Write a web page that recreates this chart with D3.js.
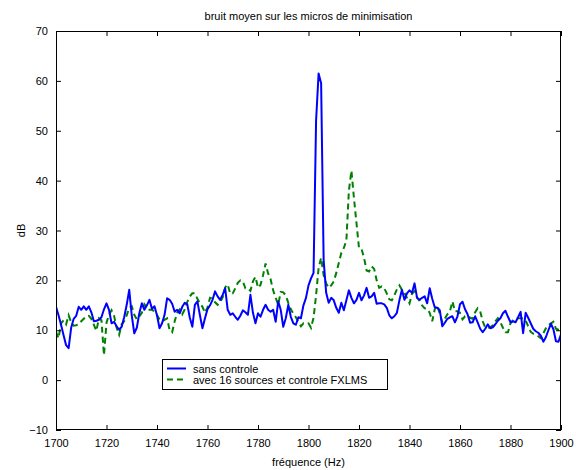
<!DOCTYPE html>
<html>
<head>
<meta charset="utf-8">
<script src="https://cdn.jsdelivr.net/npm/d3@7"></script>
<style>
  html, body { margin: 0; padding: 0; background: #fff; }
  svg { display: block; }
  text { font-family: "Liberation Sans", Arial, Helvetica, sans-serif; fill: #000; }
</style>
</head>
<body>
<svg id="chart" width="576" height="470"></svg>
<script>
// ---------- data ----------
const freqStart = 1700;   // Hz, 1 Hz steps
const sansControle = [
  14.7, 13.0, 11.1, 9.0, 7.0, 6.4, 10.5, 12.3, 12.9, 14.7,
  14.1, 14.8, 14.1, 14.8, 13.6, 11.8, 11.9, 12.1, 12.6, 14.2,
  15.4, 14.1, 11.4, 11.7, 10.8, 10.1, 10.7, 12.6, 15.1, 18.1,
  13.0, 9.4, 10.5, 13.4, 15.4, 14.1, 15.0, 16.1, 14.3, 14.8,
  13.0, 10.4, 11.4, 13.1, 16.4, 16.1, 15.3, 13.7, 14.1, 13.4,
  14.7, 15.5, 15.2, 12.5, 10.7, 15.1, 15.8, 13.0, 10.4, 12.4,
  14.2, 15.0, 16.1, 17.8, 16.8, 16.1, 17.1, 18.4, 14.1, 13.1,
  13.4, 12.7, 12.1, 12.9, 14.0, 13.6, 13.1, 17.1, 13.5, 11.4,
  13.4, 12.7, 14.1, 15.1, 14.1, 13.7, 14.1, 11.7, 15.8, 14.1,
  10.7, 12.4, 15.1, 12.7, 11.4, 11.1, 12.6, 12.4, 15.0, 16.5,
  19.0, 20.4, 21.5, 52.0, 61.5, 59.5, 24.0, 17.5, 15.5, 16.5,
  16.0, 14.5, 13.5, 15.5, 14.0, 16.0, 18.0, 16.5, 15.4, 16.1,
  17.5, 16.0, 17.0, 18.5, 16.5, 16.8, 17.5, 15.3, 15.4, 15.4,
  15.2, 14.5, 13.0, 12.4, 12.8, 13.5, 16.0, 18.1, 16.1, 17.4,
  18.0, 17.5, 19.4, 16.5, 16.1, 16.5, 16.8, 15.4, 18.4, 16.3,
  14.6, 14.5, 14.0, 10.8, 11.5, 12.3, 12.6, 12.8, 11.6, 12.8,
  15.2, 15.7, 14.2, 13.2, 11.5, 11.6, 12.8, 11.6, 10.3, 9.6,
  10.3, 11.2, 10.4, 10.6, 11.2, 11.9, 12.4, 13.4, 13.9, 12.7,
  11.6, 11.8, 11.6, 12.6, 13.7, 9.4, 13.5, 12.5, 11.4, 10.3,
  9.8, 9.5, 8.9, 7.7, 8.6, 10.0, 11.3, 10.2, 7.8, 7.7,
  9.2
];
const avecFXLMS = [
  9.7, 8.4, 11.4, 12.0, 11.2, 13.0, 11.6, 10.9, 11.0, 11.2,
  11.8, 12.3, 12.8, 12.9, 12.3, 11.1, 9.9, 12.4, 12.0, 5.0,
  11.5, 13.1, 14.0, 12.9, 10.5, 9.1, 11.2, 11.8, 13.0, 14.5,
  14.8, 13.1, 12.2, 12.8, 13.5, 15.2, 14.5, 14.1, 14.1, 13.8,
  13.0, 12.2, 11.8, 12.1, 12.4, 10.0, 9.6, 11.8, 13.5, 14.2,
  13.2, 14.2, 15.7, 16.8, 17.4, 17.4, 16.3, 15.4, 14.7, 13.5,
  14.6, 16.5, 16.3, 15.6, 15.1, 15.6, 16.6, 18.6, 19.2, 17.3,
  17.4, 18.4, 19.5, 20.0, 19.8, 18.4, 18.4, 17.9, 19.8, 20.7,
  18.5, 19.1, 21.0, 23.4, 21.4, 20.2, 18.0, 16.5, 15.1, 17.7,
  17.6, 17.0, 15.5, 14.2, 13.3, 12.6, 11.6, 10.8, 11.4, 11.3,
  11.4, 10.5, 12.5, 17.0, 22.5, 24.5, 21.0, 19.4, 18.5, 19.0,
  19.8, 21.5, 23.5, 25.5, 26.5, 28.0, 38.0, 42.0, 36.5, 31.5,
  26.5, 26.3, 24.5, 22.0, 21.8, 22.8, 22.3, 20.0, 18.5, 18.8,
  18.4, 17.4, 16.2, 16.0, 17.0, 18.2, 19.0, 18.1, 17.5, 16.5,
  15.4, 17.3, 17.8, 16.5, 15.9, 15.0, 14.4, 14.3, 13.5, 11.8,
  14.2, 15.0, 13.3, 11.6, 12.3, 13.2, 13.8, 15.8, 13.8, 13.8,
  13.5, 12.2, 12.8, 12.9, 12.5, 12.3, 13.6, 14.4, 13.8, 11.8,
  10.5, 10.5, 10.6, 11.0, 11.8, 12.4, 11.6, 10.5, 9.6, 9.6,
  11.4, 12.0, 12.2, 12.4, 12.4, 12.4, 12.0, 10.8, 9.7, 9.3,
  9.1, 8.8, 8.4, 9.4, 10.4, 11.0, 11.4, 11.7, 10.3, 10.1,
  10.1
];
const xTicks = [1700, 1720, 1740, 1760, 1780, 1800, 1820, 1840, 1860, 1880, 1900];
const yTicks = [-10, 0, 10, 20, 30, 40, 50, 60, 70];
const seriesNames = ["sans controle", "avec 16 sources et controle FXLMS"];
const titleText = "bruit moyen sur les micros de minimisation";
const xLabel = "fréquence (Hz)";
const yLabel = "dB";

// ---------- layout ----------
const L = 56, R = 561, T = 31, B = 430;
const svg = d3.select("#chart");
const x = d3.scaleLinear().domain([1700, 1900]).range([L, R]);
const y = d3.scaleLinear().domain([-10, 70]).range([B, T]);

const fmt = d => (d < 0 ? "\u2212" + Math.abs(d) : String(d));

// series
const toPts = arr => arr.map((v, i) => [freqStart + i, v]);
const line = d3.line().x(d => x(d[0])).y(d => y(d[1]));

svg.append("clipPath").attr("id", "plotclip")
  .append("rect").attr("x", L).attr("y", T).attr("width", R - L).attr("height", B - T);

const plot = svg.append("g").attr("clip-path", "url(#plotclip)");
plot.append("path").datum(toPts(avecFXLMS))
  .attr("fill", "none").attr("stroke", "#008000").attr("stroke-width", 2)
  .attr("stroke-dasharray", "6,4").attr("d", line);
plot.append("path").datum(toPts(sansControle))
  .attr("fill", "none").attr("stroke", "#0000ff").attr("stroke-width", 2)
  .attr("stroke-linejoin", "round").attr("d", line);

// axes (MATLAB style: inward ticks on all sides)
const tl = 5;
const axB = svg.append("g").attr("transform", `translate(0,${B})`)
  .call(d3.axisBottom(x).tickValues(xTicks).tickSize(-tl).tickPadding(tl + 4).tickFormat(d => d));
const axT = svg.append("g").attr("transform", `translate(0,${T})`)
  .call(d3.axisTop(x).tickValues(xTicks).tickSize(-tl).tickFormat(""));
const axL = svg.append("g").attr("transform", `translate(${L},0)`)
  .call(d3.axisLeft(y).tickValues(yTicks).tickSize(-tl).tickPadding(tl + 3).tickFormat(fmt));
const axR = svg.append("g").attr("transform", `translate(${R},0)`)
  .call(d3.axisRight(y).tickValues(yTicks).tickSize(-tl).tickFormat(""));
[axB, axT, axL, axR].forEach(g => {
  g.select(".domain").remove();
  g.selectAll("line").attr("stroke", "#000").attr("stroke-width", 1);
  g.selectAll("text").style("font-size", "11px").attr("fill", "#000")
    .style("font-family", '"Liberation Sans", Arial, sans-serif');
});
svg.append("rect").attr("x", L + 0.5).attr("y", T + 0.5)
  .attr("width", R - L - 1).attr("height", B - T - 1)
  .attr("fill", "none").attr("stroke", "#000").attr("stroke-width", 1);

// titles
svg.append("text").attr("x", (L + R) / 2).attr("y", 20).attr("text-anchor", "middle")
  .style("font-size", "11px").text(titleText);
svg.append("text").attr("x", (L + R) / 2).attr("y", 466).attr("text-anchor", "middle")
  .style("font-size", "11px").text(xLabel);
svg.append("text").attr("transform", `translate(25,${(T + B) / 2}) rotate(-90)`)
  .attr("text-anchor", "middle").style("font-size", "11px").text(yLabel);

// legend
const lg = svg.append("g");
lg.append("rect").attr("x", 162.5).attr("y", 359.5).attr("width", 225).attr("height", 30)
  .attr("fill", "#fff").attr("stroke", "#000").attr("stroke-width", 1);
const colors = ["#0000ff", "#008000"];
const dashes = [null, "6,4"];
seriesNames.forEach((name, i) => {
  const yy = 368.5 + i * 11;
  lg.append("line").attr("x1", 167).attr("x2", 186).attr("y1", yy).attr("y2", yy)
    .attr("stroke", colors[i]).attr("stroke-width", 2)
    .attr("stroke-dasharray", dashes[i]);
  lg.append("text").attr("x", 193).attr("y", yy + 4).style("font-size", "11px").text(name);
});
</script>
</body>
</html>
